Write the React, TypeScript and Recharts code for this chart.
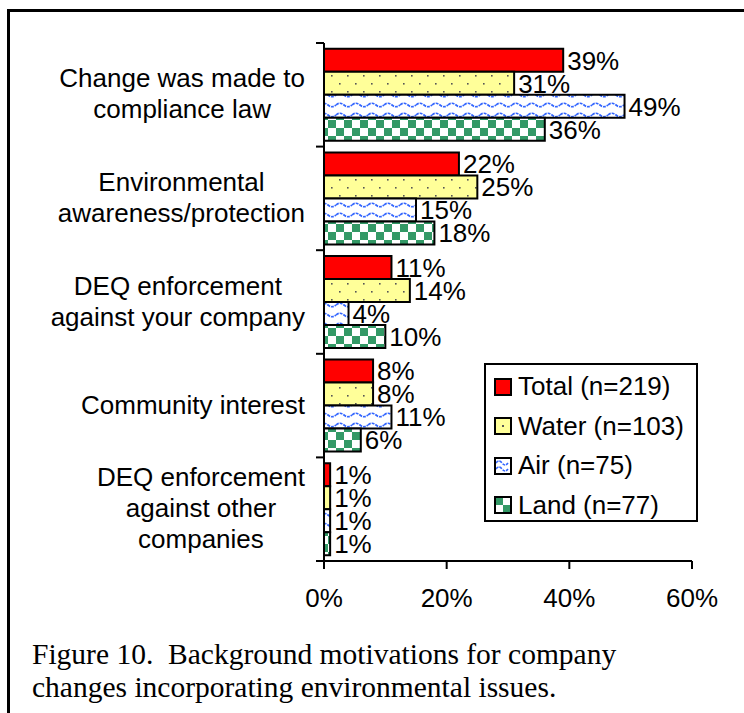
import React from "react";
import { BarChart, Bar, XAxis, YAxis, LabelList } from "recharts";

const categories = [
  "Change was made to\ncompliance law",
  "Environmental\nawareness/protection",
  "DEQ enforcement\nagainst your company",
  "Community interest",
  "DEQ enforcement\nagainst other\ncompanies",
];
const total = [39, 22, 11, 8, 1];
const water = [31, 25, 14, 8, 1];
const air = [49, 15, 4, 11, 1];
const land = [36, 18, 10, 6, 1];
const seriesNames = ["Total (n=219)", "Water (n=103)", "Air (n=75)", "Land (n=77)"];
const xTicks = [0, 20, 40, 60];
const caption = [
  "Figure 10.  Background motivations for company",
  "changes incorporating environmental issues.",
];

const W = 744;
const H = 713;
const PLOT_LEFT = 324;
const PLOT_TOP = 43;
const PLOT_BOTTOM = 561;
const PLOT_RIGHT = 692;
const BAND = (PLOT_BOTTOM - PLOT_TOP) / categories.length;
const LABEL_RIGHT = 305;
const SANS = "'Liberation Sans', Arial, sans-serif";
const SERIF = "'Liberation Serif', 'Times New Roman', serif";

const data = categories.map((name, i) => ({
  name,
  total: total[i],
  water: water[i],
  air: air[i],
  land: land[i],
}));

let ctx: CanvasRenderingContext2D | null = null;
function measure(s: string) {
  if (!ctx) ctx = document.createElement("canvas").getContext("2d");
  if (!ctx) return s.length * 13;
  ctx.font = "26px 'Liberation Sans'";
  return ctx.measureText(s).width;
}

function CategoryTick(props: any) {
  const { y, payload, index } = props;
  const lines = String(payload.value).split("\n");
  const maxW = Math.max(...lines.map(measure));
  const cx = LABEL_RIGHT - maxW / 2;
  const lh = 31;
  const y0 = y - 1 - ((lines.length - 1) * lh) / 2;
  return (
    <g>
      <line x1={PLOT_LEFT - 8} x2={PLOT_LEFT} y1={y - BAND / 2} y2={y - BAND / 2} stroke="#000" strokeWidth={2} />
      {index === categories.length - 1 && (
        <line x1={PLOT_LEFT - 8} x2={PLOT_LEFT} y1={y + BAND / 2} y2={y + BAND / 2} stroke="#000" strokeWidth={2} />
      )}
      <text textAnchor="middle" fontSize={26} fill="#000" fontFamily={SANS}>
        {lines.map((l, i) => (
          <tspan key={i} x={cx} y={y0 + i * lh} dy="0.35em">
            {l}
          </tspan>
        ))}
      </text>
    </g>
  );
}

function Swatch({ i }: { i: number }) {
  return (
    <svg width={18} height={18} style={{ display: "block" }}>
      {i === 0 && <rect x={1} y={1} width={16} height={16} fill="#ff0000" />}
      {i === 1 && (
        <g>
          <rect x={1} y={1} width={16} height={16} fill="#ffff99" />
          <rect x={8} y={8} width={2} height={2} fill="#555" />
        </g>
      )}
      {i === 2 && (
        <g>
          <rect x={1} y={1} width={16} height={16} fill="#fff" />
          <path d="M2,6 Q5,2 8,6 T14,6 M2,12 Q5,8 8,12 T14,12" fill="none" stroke="#3366ff" strokeWidth={1.6} strokeDasharray="3 1" />
        </g>
      )}
      {i === 3 && (
        <g>
          <rect x={1} y={1} width={16} height={16} fill="#fff" />
          <rect x={1} y={1} width={8} height={8} fill="#339966" />
          <rect x={9} y={9} width={8} height={8} fill="#339966" />
        </g>
      )}
      <rect x={1} y={1} width={16} height={16} fill="none" stroke="#000" strokeWidth={2} />
    </svg>
  );
}

function LegendBox() {
  return (
    <div
      style={{
        position: "absolute",
        left: 484,
        top: 363,
        boxSizing: "border-box",
        width: 214,
        height: 159,
        border: "2px solid #000",
        background: "#fff",
        padding: "2px 0 0 8px",
        fontFamily: SANS,
        fontSize: 26,
        color: "#000",
      }}
    >
      {seriesNames.map((n, i) => (
        <div key={n} style={{ display: "flex", alignItems: "center", height: 39.5 }}>
          <Swatch i={i} />
          <span style={{ marginLeft: 6 }}>{n}</span>
        </div>
      ))}
    </div>
  );
}

const barStyle = { stroke: "#000", strokeWidth: 2, isAnimationActive: false };
const labelStyle = { fontSize: 26, fill: "#000", fontFamily: SANS };

export default function App() {
  return (
    <div style={{ position: "absolute", left: 0, top: 0, width: W, height: H, overflow: "hidden", background: "#fff" }}>
      <div
        style={{
          position: "absolute",
          left: 7,
          top: 9,
          width: 900,
          height: 900,
          borderTop: "3px solid #000",
          borderLeft: "3px solid #000",
        }}
      />
      <div style={{ position: "absolute", left: 0, top: 0 }}>
        <BarChart
          width={W}
          height={H}
          data={data}
          layout="vertical"
          barCategoryGap="5.6%"
          barGap={0}
          margin={{ top: PLOT_TOP, right: W - PLOT_RIGHT, bottom: H - PLOT_BOTTOM - 60, left: 0 }}
          style={{ fontFamily: SANS }}
        >
          <defs>
            <pattern id="dots" width={16} height={16} patternUnits="userSpaceOnUse">
              <rect width={16} height={16} fill="#ffff99" />
              <rect x={3} y={3} width={1.6} height={1.6} fill="#555" />
              <rect x={11} y={11} width={1.6} height={1.6} fill="#555" />
            </pattern>
            <pattern id="waves" width={16} height={10} patternUnits="userSpaceOnUse">
              <rect width={16} height={10} fill="#fff" />
              <path d="M0,5 Q4,1.5 8,5 T16,5" fill="none" stroke="#3366ff" strokeWidth={1.7} strokeDasharray="3 1" />
            </pattern>
            <pattern id="checks" width={16} height={16} patternUnits="userSpaceOnUse">
              <rect width={16} height={16} fill="#fff" />
              <rect x={0} y={0} width={8} height={8} fill="#339966" />
              <rect x={8} y={8} width={8} height={8} fill="#339966" />
            </pattern>
          </defs>
          <XAxis
            type="number"
            domain={[0, 60]}
            ticks={xTicks}
            tickFormatter={(v) => `${v}%`}
            height={60}
            axisLine={{ stroke: "#000", strokeWidth: 2 }}
            tickLine={{ stroke: "#000", strokeWidth: 2 }}
            tickSize={8}
            tickMargin={20}
            tick={{ fontSize: 26, fill: "#000", fontFamily: SANS }}
          />
          <YAxis
            type="category"
            dataKey="name"
            width={PLOT_LEFT}
            interval={0}
            axisLine={{ stroke: "#000", strokeWidth: 2 }}
            tickLine={false}
            tick={<CategoryTick />}
          />
          <Bar dataKey="total" name={seriesNames[0]} fill="#ff0000" {...barStyle}>
            <LabelList dataKey="total" position="right" offset={4} formatter={(v: any) => `${v}%`} {...labelStyle} />
          </Bar>
          <Bar dataKey="water" name={seriesNames[1]} fill="url(#dots)" {...barStyle}>
            <LabelList dataKey="water" position="right" offset={4} formatter={(v: any) => `${v}%`} {...labelStyle} />
          </Bar>
          <Bar dataKey="air" name={seriesNames[2]} fill="url(#waves)" {...barStyle}>
            <LabelList dataKey="air" position="right" offset={4} formatter={(v: any) => `${v}%`} {...labelStyle} />
          </Bar>
          <Bar dataKey="land" name={seriesNames[3]} fill="url(#checks)" {...barStyle}>
            <LabelList dataKey="land" position="right" offset={4} formatter={(v: any) => `${v}%`} {...labelStyle} />
          </Bar>
        </BarChart>
      </div>
      <LegendBox />
      <div
        style={{
          position: "absolute",
          left: 32,
          top: 638,
          fontFamily: SERIF,
          fontSize: 29.5,
          lineHeight: "33px",
          color: "#000",
          whiteSpace: "nowrap",
        }}
      >
        {caption.map((c) => (
          <div key={c} style={{ whiteSpace: "pre" }}>
            {c}
          </div>
        ))}
      </div>
    </div>
  );
}
